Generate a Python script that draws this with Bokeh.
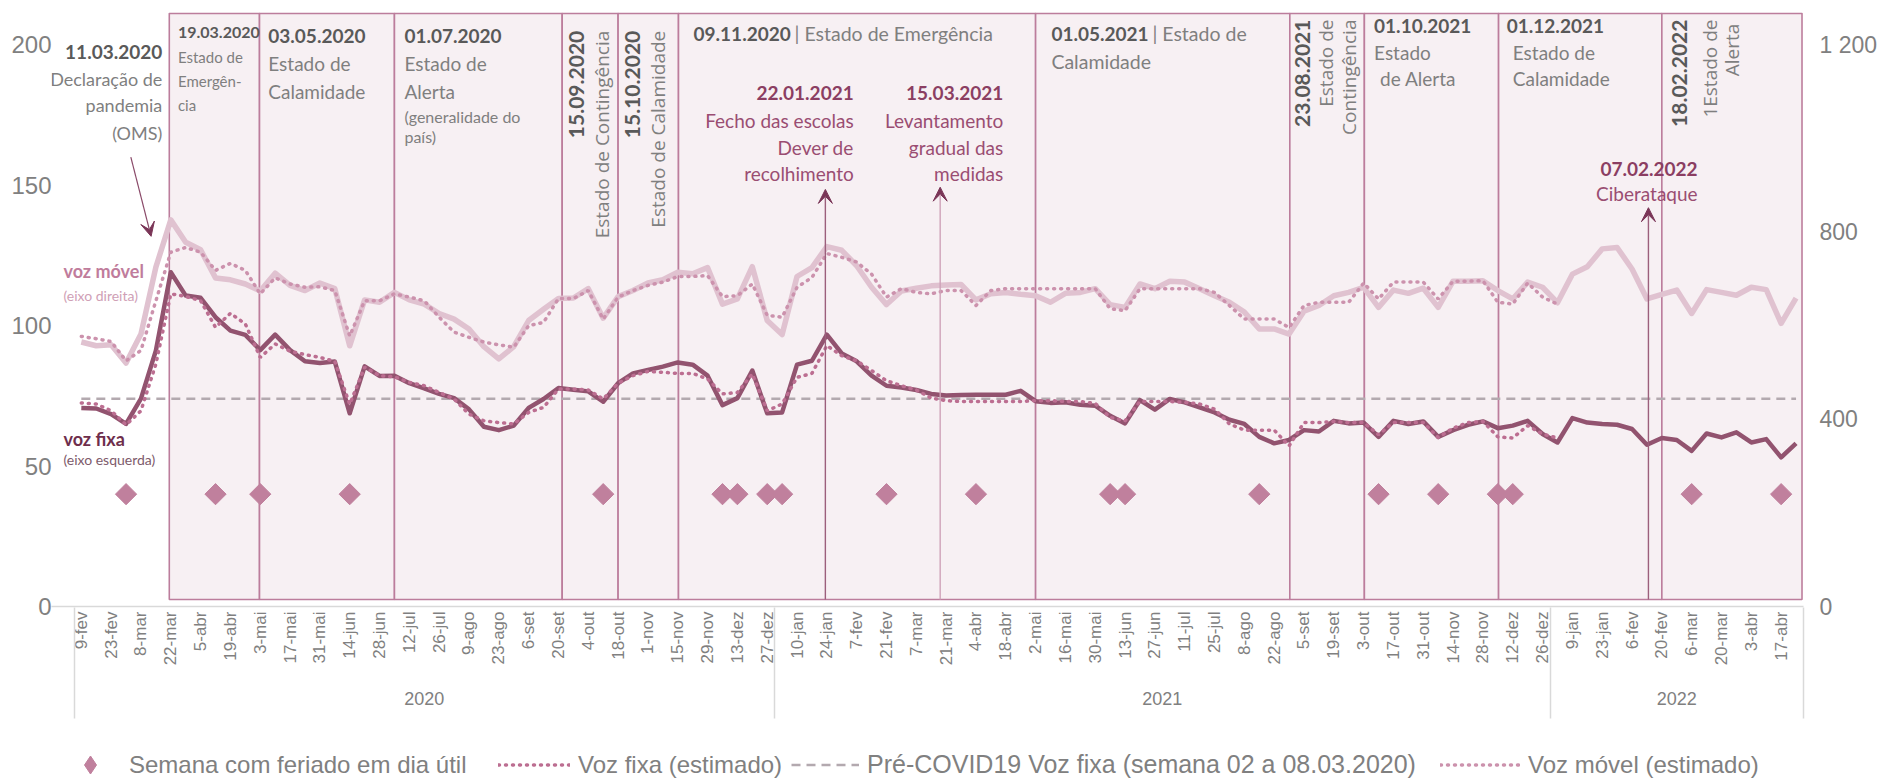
import math
from bokeh.plotting import figure
from bokeh.layouts import column
from bokeh.models import (Range1d, LinearAxis, FixedTicker, Label, Arrow, VeeHead,
                          Legend, LegendItem)
from bokeh.embed import file_html
from bokeh.resources import INLINE

# ---------------- data ----------------
week_labels = ["9-fev", "23-fev", "8-mar", "22-mar", "5-abr", "19-abr", "3-mai", "17-mai", "31-mai",
               "14-jun", "28-jun", "12-jul", "26-jul", "9-ago", "23-ago", "6-set", "20-set", "4-out",
               "18-out", "1-nov", "15-nov", "29-nov", "13-dez", "27-dez",
               "10-jan", "24-jan", "7-fev", "21-fev", "7-mar", "21-mar", "4-abr", "18-abr", "2-mai",
               "16-mai", "30-mai", "13-jun", "27-jun", "11-jul", "25-jul", "8-ago", "22-ago", "5-set",
               "19-set", "3-out", "17-out", "31-out", "14-nov", "28-nov", "12-dez", "26-dez",
               "9-jan", "23-jan", "6-fev", "20-fev", "6-mar", "20-mar", "3-abr", "17-abr"]
years = ["2020", "2021", "2022"]
year_weeks = [47, 52, 17]

voz_fixa = [70.7, 70.5, 68.5, 65.0, 74.0, 91.1, 119.0, 110.7, 109.9, 103.0,
            98.2, 96.7, 91.3, 96.8, 91.3, 87.3, 86.7, 87.2, 68.8, 85.5,
            82.1, 82.2, 79.5, 77.7, 75.7, 74.2, 70.2, 64.0, 62.8, 64.4,
            70.7, 73.9, 77.8, 77.2, 76.6, 72.9, 79.5, 83.0, 84.2, 85.4,
            86.9, 86.1, 82.2, 71.7, 74.2, 84.0, 68.8, 69.1, 86.1, 87.5,
            96.8, 90.1, 87.3, 82.2, 78.6, 78.0, 77.1, 75.7, 75.1, 75.3,
            75.4, 75.4, 75.4, 76.8, 73.1, 72.5, 72.7, 71.8, 71.5, 67.9,
            65.2, 73.5, 70.1, 73.9, 72.7, 70.9, 69.1, 66.5, 65.0, 60.4,
            58.1, 59.3, 62.8, 62.3, 66.1, 65.2, 65.5, 60.4, 66.1, 65.0,
            65.9, 60.4, 62.8, 64.7, 65.9, 63.5, 64.4, 66.1, 61.4, 58.4,
            67.1, 65.5, 65.0, 64.7, 63.2, 57.6, 60.0, 59.3, 55.4, 61.6,
            60.2, 62.0, 58.4, 59.6, 53.1, 58.1]

voz_fixa_est = [72.5, 72.1, 69.7, 64.7, 69.7, 86.3, 111.3, 110.4, 108.9, 99.4,
                104.4, 100.6, 88.7, 93.5, 90.9, 89.7, 88.7, 87.3, 72.0, 85.2,
                82.2, 81.8, 79.8, 78.6, 76.2, 73.9, 68.5, 66.1, 65.5, 65.0,
                69.1, 70.9, 77.4, 77.4, 77.1, 73.9, 79.5, 82.2, 83.7, 83.4,
                83.0, 83.0, 81.0, 75.7, 76.2, 82.8, 69.7, 72.1, 81.6, 83.0,
                92.9, 89.3, 87.5, 84.0, 80.4, 78.6, 77.1, 74.2, 73.3, 73.0,
                73.0, 73.0, 73.0, 73.0, 73.3, 73.3, 73.0, 73.0, 72.3, 67.3,
                66.1, 73.0, 73.0, 73.0, 72.7, 72.1, 70.3, 65.0, 62.8, 62.8,
                62.8, 57.2, 65.5, 65.5, 65.9, 65.5, 65.5, 61.2, 65.5, 65.5,
                65.5, 60.2, 63.5, 65.5, 65.9, 60.4, 60.0, 64.4, 61.4, 60.0]

voz_movel = [565, 557, 559, 520, 582, 725, 826, 778, 762, 702,
             698, 689, 674, 712, 686, 675, 691, 679, 557, 655,
             650, 671, 655, 646, 626, 614, 593, 555, 529, 555,
             611, 635, 658, 659, 679, 616, 662, 675, 691, 698,
             714, 711, 724, 646, 657, 726, 611, 581, 705, 724,
             769, 761, 728, 682, 645, 674, 680, 685, 687, 688,
             655, 668, 671, 667, 664, 650, 669, 671, 679, 645,
             639, 689, 679, 695, 693, 679, 664, 650, 629, 593,
             593, 582, 631, 643, 664, 671, 682, 639, 676, 669,
             680, 639, 695, 695, 696, 675, 657, 693, 682, 649,
             710, 726, 764, 767, 721, 657, 667, 676, 626, 677,
             671, 665, 682, 677, 605, 659]

voz_movel_est = [577, 572, 566, 525, 547, 653, 757, 767, 757, 718,
                 733, 718, 668, 702, 689, 682, 683, 675, 578, 653,
                 653, 668, 661, 653, 618, 586, 575, 565, 559, 554,
                 600, 607, 658, 658, 675, 614, 661, 675, 686, 693,
                 705, 705, 707, 662, 664, 689, 622, 618, 682, 703,
                 754, 746, 736, 710, 661, 679, 671, 668, 675, 675,
                 643, 675, 679, 679, 679, 679, 679, 679, 679, 636,
                 632, 679, 679, 679, 679, 679, 671, 643, 614, 614,
                 614, 596, 643, 650, 650, 650, 691, 657, 693, 693,
                 693, 657, 695, 695, 696, 650, 646, 691, 661, 646]

pre_covid_fixa = 74.0
holiday_weeks = [3, 9, 12, 18, 35, 43, 44, 46, 47, 54, 60, 69, 70, 79, 87, 91, 95, 96, 108, 114]
holiday_level = 40

# event boundaries (positions on the week axis)
period_bounds = [5.9, 11.95, 21.0, 32.25, 36.0, 40.05, 64.0, 81.05, 86.05, 95.05, 106.0, 115.4]
event_arrows = [49.9, 57.6, 105.1]
arrow_tips = [148.5, 149.3, 142.0]

legend_labels = ["Semana com feriado em dia útil", "Voz fixa (estimado)",
                 "Pré-COVID19 Voz fixa (semana 02 a 08.03.2020)", "Voz móvel (estimado)"]

# ---------------- styles ----------------
C_FIXA = "#92536F"
C_FIXA_EST = "#BC6E91"
C_MOVEL = "#E0C2D0"
C_MOVEL_EST = "#CC92AD"
C_PRE = "#B3A9AF"
C_HOL = "#C0809D"
AX_FONT = "Liberation Sans"
AX_COL = "#808080"

# ---------------- figure ----------------
n = len(voz_fixa)
weeks = list(range(n))
Y_TOP = 211.5
X_START = -2.0
FIG_W = 1877

p = figure(frame_width=1752, frame_height=594, output_backend="svg", toolbar_location=None,
           x_range=Range1d(X_START, n - 0.5), y_range=Range1d(0, Y_TOP),
           x_axis_location=None, y_axis_location=None,
           min_border_left=51, min_border_right=70, min_border_top=12, min_border_bottom=115)
p.extra_y_ranges = {"right": Range1d(0, Y_TOP * 6)}
p.outline_line_color = None
p.xgrid.grid_line_color = None
p.ygrid.grid_line_color = None
p.background_fill_color = "white"
p.border_fill_color = "white"

# left axis
yl = LinearAxis(ticker=FixedTicker(ticks=[0, 50, 100, 150, 200]))
yl.axis_line_color = None
yl.major_tick_line_color = None
yl.minor_tick_line_color = None
yl.major_tick_in = 0
yl.major_tick_out = 0
yl.major_label_standoff = 0
yl.major_label_text_font = AX_FONT
yl.major_label_text_font_size = "24px"
yl.major_label_text_color = AX_COL
p.add_layout(yl, "left")

# right axis
yr = LinearAxis(y_range_name="right", ticker=FixedTicker(ticks=[0, 400, 800, 1200]))
yr.major_label_overrides = {1200: "1 200"}
yr.axis_line_color = None
yr.major_tick_line_color = None
yr.minor_tick_line_color = None
yr.major_tick_in = 0
yr.major_tick_out = 0
yr.major_label_standoff = 16
yr.major_label_text_font = AX_FONT
yr.major_label_text_font_size = "23px"
yr.major_label_text_color = AX_COL
p.add_layout(yr, "right")

# week axis
tick_pos = list(range(0, n - 1, 2))
xa = LinearAxis(ticker=FixedTicker(ticks=tick_pos))
xa.major_label_overrides = {t: lab for t, lab in zip(tick_pos, week_labels)}
xa.major_label_orientation = math.pi / 2
xa.major_tick_line_color = None
xa.minor_tick_line_color = None
xa.major_tick_in = 0
xa.major_tick_out = 0
xa.axis_line_color = "#D9D9D9"
xa.axis_line_width = 1.5
xa.major_label_standoff = 5
xa.major_label_text_font = AX_FONT
xa.major_label_text_font_size = "17px"
xa.major_label_text_color = AX_COL
p.add_layout(xa, "below")

# year axis, with the group separators as its minor ticks
centers = []
edges = [-0.49]
acc = -0.5
for w in year_weeks:
    centers.append(acc + w / 2)
    acc += w
    edges.append(min(acc, n - 0.51))
xy = LinearAxis(ticker=FixedTicker(ticks=centers, minor_ticks=edges))
xy.major_label_overrides = {c: y for c, y in zip(centers, years)}
xy.axis_line_color = None
xy.major_tick_line_color = None
xy.major_tick_in = 0
xy.major_tick_out = 0
xy.minor_tick_in = 61
xy.minor_tick_out = 50
xy.minor_tick_line_color = "#D9D9D9"
xy.minor_tick_line_width = 1.5
xy.major_label_standoff = -27
xy.major_label_text_font = AX_FONT
xy.major_label_text_font_size = "18px"
xy.major_label_text_color = AX_COL
p.add_layout(xy, "below")

# period boxes
p.quad(left=period_bounds[:-1], right=period_bounds[1:], bottom=2.5, top=Y_TOP - 0.3,
       fill_color="#F7F0F3", line_color="#BC7D9C", line_width=1.6)

# event arrows
arrow_cols = ["#9C5F7C", "#CFA3B8", "#9C5F7C"]
for xpos, tip, col in zip(event_arrows, arrow_tips, arrow_cols):
    p.add_layout(Arrow(x_start=xpos, y_start=2.5, x_end=xpos, y_end=tip,
                       line_color=col, line_width=1.4,
                       end=VeeHead(size=14, fill_color="#7A3557", line_color="#7A3557")))
p.add_layout(Arrow(x_start=3.32, y_start=160, x_end=4.68, y_end=131.8,
                   line_color="#8A4A69", line_width=1.2,
                   end=VeeHead(size=14, fill_color="#7A3557", line_color="#7A3557")))

# series
p.line(weeks, [pre_covid_fixa] * n, line_color=C_PRE, line_width=2.5, line_dash="9 6")
p.line(weeks, voz_movel, y_range_name="right", line_color=C_MOVEL, line_width=5.5, line_join="round")
p.line(weeks[:len(voz_movel_est)], voz_movel_est, y_range_name="right",
       line_color=C_MOVEL_EST, line_width=3.5, line_dash="1 6", line_cap="round")
p.line(weeks, voz_fixa, line_color=C_FIXA, line_width=4.5, line_join="round")
p.line(weeks[:len(voz_fixa_est)], voz_fixa_est, line_color=C_FIXA_EST,
       line_width=3.5, line_dash="1 6", line_cap="round")
p.scatter(holiday_weeks, [holiday_level] * len(holiday_weeks), marker="square",
          angle=math.pi / 4, size=15, fill_color=C_HOL, line_color=C_HOL)

# ---------------- annotation texts ----------------
LATO = "Lato"
OPEN = "Open Sans"
G_DARK = "#595959"
G_TXT = "#7F7F7F"
M_DARK = "#8B3E62"
M_TXT = "#9A4D72"


def txt(x, y, s, size, color, bold=False, align="left", font=LATO, angle=0.0, xo=0):
    p.add_layout(Label(x=x, y=y, text=s, text_font=font, text_font_size=f"{size}px",
                       text_font_style="bold" if bold else "normal", text_color=color,
                       text_align=align, text_baseline="middle", angle=angle, x_offset=xo))


txt(5.43, 197.4, "11.03.2020", 19, G_DARK, True, "right")
for s, yy in zip(["Declaração de", "pandemia", "(OMS)"], [188.0, 178.5, 168.7]):
    txt(5.43, yy, s, 18, G_TXT, align="right")

txt(6.48, 204.3, "19.03.2020", 16, G_DARK, True)
for s, yy in zip(["Estado de", "Emergên-", "cia"], [195.7, 187.1, 178.5]):
    txt(6.48, yy, s, 15, G_TXT)

txt(12.54, 203.0, "03.05.2020", 19, G_DARK, True)
txt(12.54, 193.2, "Estado de", 19, G_TXT)
txt(12.54, 183.3, "Calamidade", 19, G_TXT)

txt(21.67, 203.0, "01.07.2020", 19, G_DARK, True)
txt(21.67, 193.2, "Estado de", 19, G_TXT)
txt(21.67, 183.3, "Alerta", 19, G_TXT)
txt(21.67, 174.3, "(generalidade do", 16, G_TXT)
txt(21.67, 167.4, "país)", 16, G_TXT)

V = math.pi / 2
txt(33.2, 205.0, "15.09.2020", 21, G_DARK, True, "right", angle=V)
txt(34.9, 205.0, "Estado de Contingência", 19, G_TXT, align="right", font=OPEN, angle=V)
txt(36.95, 205.0, "15.10.2020", 21, G_DARK, True, "right", angle=V)
txt(38.7, 205.0, "Estado de Calamidade", 19, G_TXT, align="right", font=OPEN, angle=V)

txt(41.06, 203.9, "09.11.2020", 19, G_DARK, True)
txt(41.06, 203.9, "| Estado de Emergência", 19.5, G_TXT, xo=101)

txt(51.8, 182.9, "22.01.2021", 19, M_DARK, True, "right")
for s, yy in zip(["Fecho das escolas", "Dever de", "recolhimento"], [173.0, 163.5, 154.1]):
    txt(51.8, yy, s, 19, M_TXT, align="right")
txt(61.83, 182.9, "15.03.2021", 19, M_DARK, True, "right")
for s, yy in zip(["Levantamento", "gradual das", "medidas"], [173.0, 163.5, 154.1]):
    txt(61.83, yy, s, 19, M_TXT, align="right")

txt(65.06, 203.9, "01.05.2021", 19, G_DARK, True)
txt(65.06, 203.9, "| Estado de", 19.5, G_TXT, xo=101)
txt(65.06, 194.0, "Calamidade", 19.5, G_TXT)

txt(81.9, 209.0, "23.08.2021", 21, G_DARK, True, "right", angle=V)
txt(83.5, 209.0, "Estado de", 19, G_TXT, align="right", font=OPEN, angle=V)
txt(85.0, 209.0, "Contingência", 19, G_TXT, align="right", font=OPEN, angle=V)

txt(86.7, 206.8, "01.10.2021", 19, G_DARK, True)
txt(86.7, 197.4, "Estado", 19, G_TXT)
txt(86.7, 188.0, "de Alerta", 19, G_TXT, xo=6)

txt(95.6, 206.8, "01.12.2021", 19, G_DARK, True)
txt(95.6, 197.4, "Estado de", 19, G_TXT, xo=6)
txt(95.6, 188.0, "Calamidade", 19, G_TXT, xo=6)

txt(107.2, 209.0, "18.02.2022", 21, G_DARK, True, "right", angle=V)
txt(109.2, 209.0, "1Estado de", 19, G_TXT, align="right", font=OPEN, angle=V)
txt(110.7, 207.5, "Alerta", 19, G_TXT, align="right", font=OPEN, angle=V)

txt(108.4, 155.8, "07.02.2022", 19, M_DARK, True, "right")
txt(108.4, 147.2, "Ciberataque", 19, M_TXT, align="right")

txt(-1.2, 119.3, "voz móvel", 18, "#C07C9C", True)
txt(-1.2, 110.8, "(eixo direita)", 14, "#CFA0B6")
txt(-1.2, 59.7, "voz fixa", 18, "#6E2E4C", True)
txt(-1.2, 52.4, "(eixo esquerda)", 14, "#7D5A6B")

# ---------------- legend (separate strip below the chart) ----------------
lf = figure(width=FIG_W, height=58, output_backend="svg", toolbar_location=None,
            x_range=Range1d(0, 1), y_range=Range1d(0, 1),
            x_axis_location=None, y_axis_location=None, min_border=0)
lf.outline_line_color = None
lf.xgrid.grid_line_color = None
lf.ygrid.grid_line_color = None
l_hol = lf.scatter([-5], [-5], marker="diamond", size=18, fill_color=C_HOL, line_color=C_HOL)
l_fest = lf.line([-5, -4], [-5, -5], line_color=C_FIXA_EST, line_width=3.5,
                 line_dash="1 6", line_cap="round")
l_pre = lf.line([-5, -4], [-5, -5], line_color=C_PRE, line_width=2.5, line_dash="9 6")
l_mest = lf.line([-5, -4], [-5, -5], line_color=C_MOVEL_EST, line_width=3.5,
                 line_dash="1 6", line_cap="round")

# the legend strip's frame is aligned with the chart frame (which starts 51px in)
leg_x = [10, 447, 740, 1389]
leg_gw = [58, 72, 68, 80]
leg_so = [10, 8, 8, 8]
leg_fs = [24, 24, 25, 24]
for lab, r, lx, gw, so, fs in zip(legend_labels, [l_hol, l_fest, l_pre, l_mest],
                                  leg_x, leg_gw, leg_so, leg_fs):
    lg = Legend(items=[LegendItem(label=lab, renderers=[r])],
                location=(lx, -8), orientation="horizontal", glyph_width=gw, glyph_height=45,
                label_standoff=so, spacing=0, padding=0, margin=0,
                border_line_color=None, background_fill_alpha=0,
                label_text_font=AX_FONT, label_text_font_size=f"{fs}px", label_text_color=AX_COL)
    lf.add_layout(lg)

layout = column(p, lf, spacing=0)
open("out.html", "w").write(file_html(layout, INLINE))
